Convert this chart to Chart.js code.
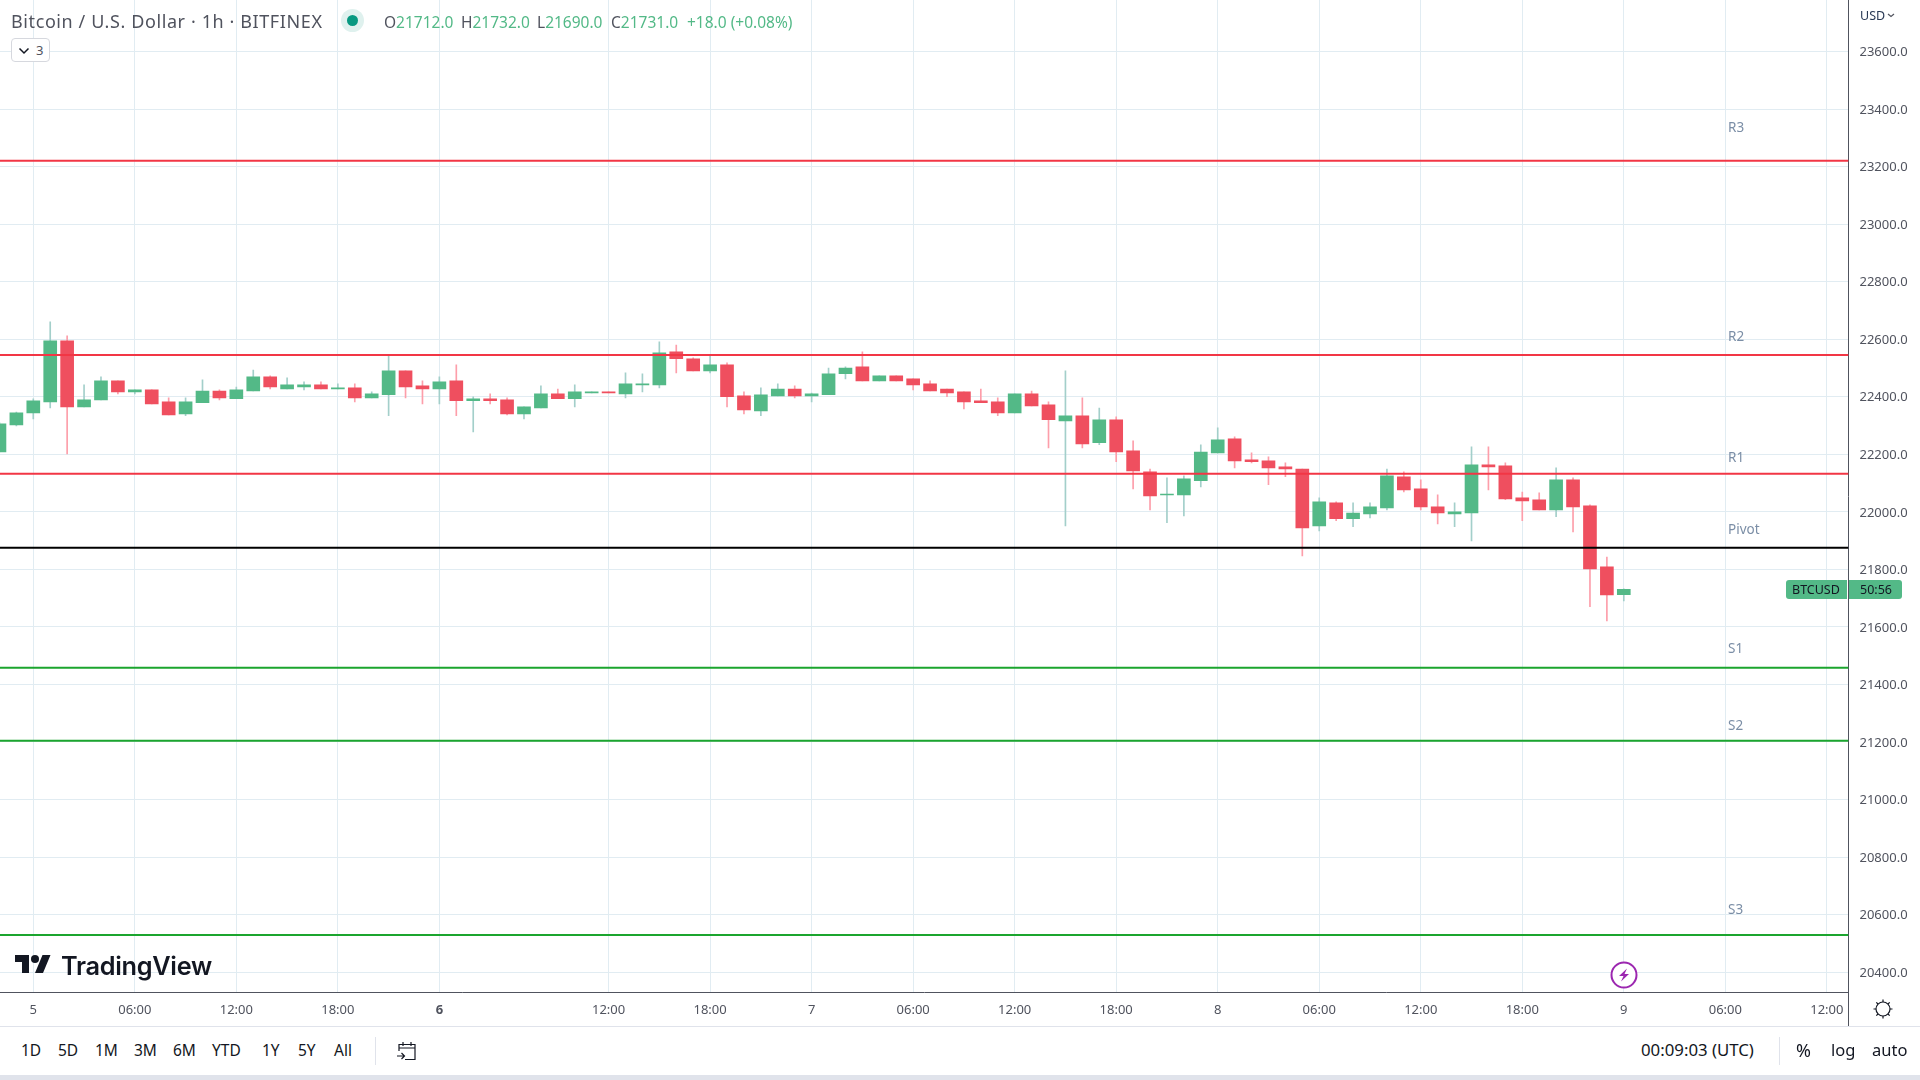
<!DOCTYPE html>
<html>
<head>
<meta charset="utf-8">
<title>Bitcoin / U.S. Dollar</title>
<script src="https://cdn.jsdelivr.net/npm/chart.js@4"></script>
<style>
  html, body { margin: 0; padding: 0; background: #fff; width: 1920px; height: 1080px; overflow: hidden; }
  body { position: relative; font-family: "Noto Sans", sans-serif; color: #131722; }
  #chart { position: absolute; left: 0; top: 0; }
  .t { position: absolute; white-space: nowrap; line-height: 20px; }
  .bar { font-size: 15.5px; top: 1040px; color: #131722; }
  .legend { font-size: 15.5px; top: 12px; color: #50535e; }
  .legend b { font-weight: 400; color: #53b987; }
  .box { position: absolute; }
  svg { position: absolute; overflow: visible; }
</style>
</head>
<body>
<canvas id="chart" width="1920" height="1027"></canvas>

<div class="t" style="left:11px;top:11px;font-size:18px;letter-spacing:0.6px;color:#50535e">Bitcoin / U.S. Dollar · 1h · BITFINEX</div>
<div class="box" style="left:341px;top:9px;width:23px;height:23px;border-radius:50%;background:#dff1ee"></div>
<div class="box" style="left:347px;top:15px;width:11px;height:11px;border-radius:50%;background:#089981"></div>
<div class="t legend" style="left:384px">O<b>21712.0</b></div>
<div class="t legend" style="left:461px">H<b>21732.0</b></div>
<div class="t legend" style="left:537px">L<b>21690.0</b></div>
<div class="t legend" style="left:611px">C<b>21731.0</b></div>
<div class="t legend" style="left:687px;color:#53b987">+18.0 (+0.08%)</div>

<div class="box" style="left:11px;top:38px;width:39px;height:24px;border:1px solid #d6d8de;border-radius:4px;box-sizing:border-box;background:#fff"></div>
<svg style="left:18px;top:47px" width="12" height="8"><path d="M1.5 1.5 L6 6 L10.500 1.5" fill="none" stroke="#131722" stroke-width="1.5"/></svg>
<div class="t" style="left:36px;top:40px;font-size:13px;color:#50535e">3</div>

<div class="t" style="left:1860px;top:6px;font-size:12.5px;color:#2a3a55">USD</div>
<svg style="left:1887px;top:13px" width="8" height="5"><path d="M1 1 L4 3.500 L7 1" fill="none" stroke="#50535e" stroke-width="1.2"/></svg>

<div class="box" style="left:1786px;top:580px;width:61px;height:19px;background:#53b987;border-radius:3px 0 0 3px"></div>
<div class="box" style="left:1849px;top:580px;width:53px;height:19px;background:#53b987;border-radius:0 3px 3px 0"></div>
<div class="t" style="left:1792px;top:580px;font-size:12.5px;line-height:19px;color:#131722">BTCUSD</div>
<div class="t" style="left:1860px;top:580px;font-size:12.5px;line-height:19px;color:#131722">50:56</div>

<svg style="left:15px;top:951px" width="36" height="28" viewBox="0 0 36 28"><path fill="#131722" d="M14 22H7V11H0V4h14v18zM28 22h-8l7.500-18h8L28 22z"/><circle fill="#131722" cx="20" cy="8" r="4"/></svg>
<div class="t" style="left:61px;top:951px;font-family:Inter,sans-serif;font-size:25.3px;line-height:30px;font-weight:600;letter-spacing:-0.3px;color:#131722">TradingView</div>

<svg style="left:1610px;top:961px" width="28" height="28"><circle cx="14" cy="14" r="12.500" fill="#fff" stroke="#9c27b0" stroke-width="2"/><path d="M17 7.500 L9 15 H13.500 L11 20.500 L19 13 H14.500 Z" fill="#9c27b0"/></svg>

<div class="box" style="left:1848px;top:992px;width:1px;height:35px;background:#50535e"></div>
<svg style="left:1873px;top:999px" width="20" height="20"><circle cx="10" cy="10" r="7" fill="none" stroke="#131722" stroke-width="1.2"/><path d="M10 0.500V3M10 17V19.500M0.500 10H3M17 10H19.500M3.300 3.300L5 5M15 15L16.700 16.700M3.300 16.700L5 15M15 5L16.700 3.300" stroke="#131722" stroke-width="1.2"/></svg>

<div class="box" style="left:0;top:1026px;width:1920px;height:1px;background:#e0e3eb"></div>
<div class="t bar" style="left:21px">1D</div>
<div class="t bar" style="left:58px">5D</div>
<div class="t bar" style="left:95px">1M</div>
<div class="t bar" style="left:134px">3M</div>
<div class="t bar" style="left:173px">6M</div>
<div class="t bar" style="left:212px">YTD</div>
<div class="t bar" style="left:262px">1Y</div>
<div class="t bar" style="left:298px">5Y</div>
<div class="t bar" style="left:334px">All</div>
<div class="box" style="left:375px;top:1037px;width:1px;height:28px;background:#e0e3eb"></div>
<svg style="left:396px;top:1041px" width="22" height="20"><path d="M3 10V3.500H19V18.500H9M3 7H19M7 1V5M15 1V5M1 15H8M5.500 12L8.500 15L5.500 18" fill="none" stroke="#131722" stroke-width="1.200"/></svg>
<div class="t bar" style="left:1641px;font-size:16.800px">00:09:03 (UTC)</div>
<div class="box" style="left:1779px;top:1037px;width:1px;height:28px;background:#e0e3eb"></div>
<div class="t bar" style="left:1796px;font-size:18px">%</div>
<div class="t bar" style="left:1831px;font-size:16.500px">log</div>
<div class="t bar" style="left:1872px;font-size:16.500px">auto</div>
<div class="box" style="left:0;top:1075px;width:1920px;height:5px;background:#e0e3eb"></div>

<script>
const firstBar = -2;

const opens = [22208,22302,22344,22382,22594,22365,22389,22455,22417,22424,22382,22340,22379,22420,22393,22420,22469,22427,22434,22441,22427,22431,22396,22407,22490,22438,22427,22455,22386,22393,22389,22340,22361,22410,22393,22413,22417,22410,22441,22441,22556,22532,22490,22511,22403,22351,22403,22427,22403,22407,22480,22504,22455,22473,22462,22445,22427,22417,22386,22382,22344,22410,22372,22316,22334,22240,22320,22212,22139,22059,22059,22108,22205,22254,22181,22177,22156,22149,21951,22031,21976,21993,22014,22122,22080,22017,21993,21996,22163,22160,22049,22042,22007,22111,22021,21809,21712];
const highs = [22310,22347,22393,22660,22612,22441,22469,22455,22424,22424,22396,22396,22459,22424,22434,22493,22473,22466,22452,22452,22445,22445,22417,22542,22490,22455,22469,22511,22400,22410,22396,22365,22438,22427,22441,22417,22417,22483,22480,22591,22580,22535,22542,22518,22417,22431,22445,22438,22413,22500,22504,22556,22473,22473,22462,22455,22427,22417,22427,22396,22410,22420,22382,22490,22396,22361,22330,22247,22149,22118,22125,22233,22292,22261,22205,22191,22170,22149,22049,22035,22031,22031,22149,22139,22111,22059,22031,22226,22226,22170,22069,22066,22153,22118,22024,21843,21732];
const lows = [22208,22299,22323,22361,22201,22365,22389,22410,22410,22375,22337,22334,22379,22389,22393,22420,22427,22427,22424,22427,22427,22382,22396,22334,22396,22375,22375,22334,22278,22375,22337,22323,22361,22393,22365,22413,22413,22396,22417,22431,22483,22490,22483,22365,22340,22334,22403,22396,22382,22407,22462,22455,22455,22455,22424,22420,22400,22358,22379,22334,22344,22368,22222,21951,22222,22233,22174,22080,22007,21962,21986,22087,22205,22153,22170,22094,22122,21847,21934,21969,21948,21979,22007,22069,22007,21958,21948,21899,22076,22042,21969,22007,21983,21930,21670,21621,21690];
const closes = [22306,22344,22386,22594,22365,22389,22455,22417,22424,22375,22337,22382,22420,22396,22424,22469,22434,22441,22441,22427,22431,22396,22410,22490,22434,22427,22452,22386,22393,22386,22340,22365,22410,22393,22417,22417,22413,22445,22445,22553,22532,22490,22511,22400,22354,22407,22427,22403,22410,22480,22500,22455,22473,22455,22441,22420,22413,22382,22379,22344,22410,22368,22320,22334,22236,22320,22208,22142,22055,22062,22115,22208,22250,22177,22174,22153,22149,21944,22035,21976,21996,22017,22125,22076,22017,21996,22000,22163,22156,22045,22038,22007,22111,22017,21802,21711,21731];

const xTickBars = [0,6,12,18,24,34,40,46,52,58,64,70,76,82,88,94,100,106];
const xTickLabels = ['5','06:00','12:00','18:00','6','12:00','18:00','7','06:00','12:00','18:00','8','06:00','12:00','18:00','9','06:00','12:00'];
const priceTicks = [23600,23400,23200,23000,22800,22600,22400,22200,22000,21800,21600,21400,21200,21000,20800,20600,20400];

const pivotNames = ['R3','R2','R1','Pivot','S1','S2','S3'];
const pivotValues = [23220,22545,22132,21875,21458,21204,20529];
const pivotLabelPrices = [23335,22606,22188,21938,21524,21256,20617];
const pivotColors = ['#f23645','#f23645','#f23645','#000000','#1ba52e','#1ba52e','#1ba52e'];

const xMin = -1.968;
const xMax = 107.28;
const yMin = 20330;
const yMax = 23779;

const upBody = '#53b987', downBody = '#ef4f5f';
const upWick = '#a3cfca', downWick = '#fd9eaa';

const isUp = opens.map((o, i) => closes[i] >= o);
const bodyData = opens.map((o, i) => ({ x: firstBar + i, y: [o, closes[i]] }));
const wickData = opens.map((o, i) => ({ x: firstBar + i, y: [lows[i], highs[i]] }));

const pivotLines = pivotValues.map((v, i) => ({
    type: 'line',
    data: [{ x: xMin, y: v }, { x: xMax, y: v }],
    borderColor: pivotColors[i],
    borderWidth: 2,
    pointRadius: 0,
    order: 0
}));

const pivotLabelPlugin = {
    id: 'pivotLabels',
    afterDatasetsDraw(chart) {
        const ctx = chart.ctx;
        ctx.save();
        ctx.font = '13.5px "Noto Sans"';
        ctx.fillStyle = '#7b8ea6';
        ctx.textBaseline = 'middle';
        pivotNames.forEach((name, i) => {
            ctx.fillText(name, 1728, chart.scales.y.getPixelForValue(pivotLabelPrices[i]));
        });
        ctx.restore();
    }
};

// chart.js reserves room for half a tick label, the plot has to run to the edges here
function noMargins(s) {
    s.paddingTop = 0;
    s.paddingBottom = 0;
    s.paddingLeft = 0;
    s.paddingRight = 0;
}

new Chart(document.getElementById('chart'), {
    type: 'bar',
    data: {
        datasets: [
            ...pivotLines,
            { data: bodyData, backgroundColor: isUp.map(u => u ? upBody : downBody), barThickness: 13, grouped: false, order: 1 },
            { data: wickData, backgroundColor: isUp.map(u => u ? upWick : downWick), barThickness: 1, grouped: false, order: 2 }
        ]
    },
    plugins: [pivotLabelPlugin],
    options: {
        responsive: false,
        animation: false,
        events: [],
        layout: { padding: 0 },
        plugins: { legend: { display: false }, tooltip: { enabled: false } },
        scales: {
            x: {
                type: 'linear',
                min: xMin,
                max: xMax,
                offset: false,
                afterFit: s => { s.height = 34.7; noMargins(s); },
                afterBuildTicks: s => { s.ticks = xTickBars.map(v => ({ value: v })); },
                grid: { color: '#e1ecf2', offset: false, drawTicks: false },
                border: { color: '#50535e', width: 1 },
                ticks: {
                    autoSkip: false,
                    maxRotation: 0,
                    minRotation: 0,
                    padding: 10,
                    color: '#50535e',
                    font: ctx => ({ family: '"Noto Sans"', size: 13, weight: ctx.tick && ctx.tick.label === '6' ? 'bold' : 'normal' }),
                    callback: (v, i) => xTickLabels[i]
                }
            },
            y: {
                position: 'right',
                min: yMin,
                max: yMax,
                afterFit: s => { s.width = 71.5; noMargins(s); },
                afterBuildTicks: s => { s.ticks = priceTicks.map(v => ({ value: v })); },
                grid: { color: '#e1ecf2', drawTicks: false },
                border: { color: '#50535e', width: 1 },
                ticks: {
                    autoSkip: false,
                    padding: 11,
                    labelOffset: 1,
                    color: '#50535e',
                    font: { family: '"Noto Sans"', size: 13 },
                    callback: v => v.toFixed(1)
                }
            }
        }
    }
});
</script>
</body>
</html>
